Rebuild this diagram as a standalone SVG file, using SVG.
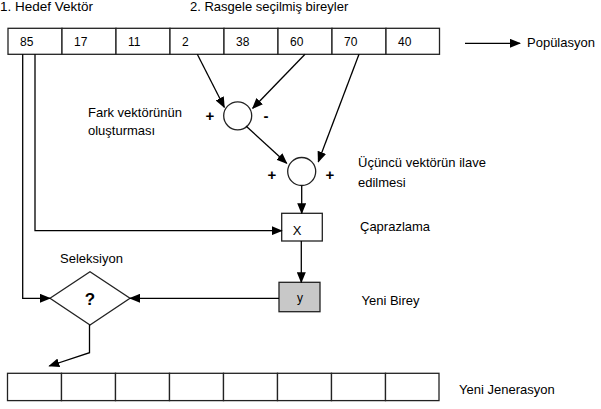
<svg xmlns="http://www.w3.org/2000/svg" width="601" height="409" viewBox="0 0 601 409">
<defs>
<marker id="ah" markerWidth="11" markerHeight="9" refX="10" refY="4.5" orient="auto" markerUnits="userSpaceOnUse">
<path d="M0,0 L11,4.5 L0,9 Z" fill="#000"/>
</marker>
<style>
text{font-family:"Liberation Sans",Arial,sans-serif;fill:#000}
.lbl{font-size:13px}
.num{font-size:12px}
.sign{font-size:15px;font-weight:bold}
.cell{fill:#fff;stroke:#222;stroke-width:1.3}
.ln{fill:none;stroke:#000;stroke-width:1.3}
.arr{fill:none;stroke:#000;stroke-width:1.3;marker-end:url(#ah)}
</style>
</defs>
<rect width="601" height="409" fill="#fff"/>
<text class="lbl" x="0" y="10.5" style="font-size:13.5px">1. Hedef Vektör</text>
<text class="lbl" x="190" y="10.5">2. Rasgele seçilmiş bireyler</text>
<g id="population">
<rect class="cell" x="8" y="28.3" width="54" height="26"/>
<rect class="cell" x="62" y="28.3" width="54" height="26"/>
<rect class="cell" x="116" y="28.3" width="54" height="26"/>
<rect class="cell" x="170" y="28.3" width="54" height="26"/>
<rect class="cell" x="224" y="28.3" width="54" height="26"/>
<rect class="cell" x="278" y="28.3" width="54" height="26"/>
<rect class="cell" x="332" y="28.3" width="54" height="26"/>
<rect class="cell" x="386" y="28.3" width="53.5" height="26"/>
<text class="num" x="20" y="46">85</text>
<text class="num" x="74" y="46">17</text>
<text class="num" x="128" y="46">11</text>
<text class="num" x="182" y="46">2</text>
<text class="num" x="236" y="46">38</text>
<text class="num" x="290" y="46">60</text>
<text class="num" x="344" y="46">70</text>
<text class="num" x="398" y="46">40</text>
</g>
<text class="lbl" x="527" y="47">Popülasyon</text>
<g id="diff">
<circle class="cell" cx="237.7" cy="115.8" r="14"/>
<text class="sign" x="210" y="121" text-anchor="middle">+</text>
<text class="sign" x="266" y="121" text-anchor="middle">-</text>
<text class="lbl" x="88" y="116.5">Fark vektörünün</text>
<text class="lbl" x="88" y="135">oluşturması</text>
</g>
<g id="add">
<circle class="cell" cx="301.7" cy="171.5" r="14"/>
<text class="sign" x="272" y="180" text-anchor="middle">+</text>
<text class="sign" x="330" y="180" text-anchor="middle">+</text>
<text class="lbl" x="358" y="166.5">Üçüncü vektörün ilave</text>
<text class="lbl" x="358" y="186.5">edilmesi</text>
</g>
<g id="cross">
<rect class="cell" x="281.7" y="213.3" width="40.6" height="27.7"/>
<text class="lbl" x="297" y="235" text-anchor="middle">X</text>
<text class="lbl" x="360" y="231">Çaprazlama</text>
</g>
<g id="newind">
<rect x="279" y="282.3" width="41" height="29.4" fill="#c8c8c8" stroke="#222" stroke-width="1.3"/>
<text class="lbl" x="300" y="302" text-anchor="middle" style="font-size:12px">y</text>
<text class="lbl" x="361.5" y="305">Yeni Birey</text>
</g>
<g id="selection">
<path class="cell" d="M50,298.3 L90,271.7 L130,298.3 L90,325 Z"/>
<text x="90" y="305" text-anchor="middle" style="font-size:17px;font-weight:bold">?</text>
<text class="lbl" x="60" y="263">Seleksiyon</text>
</g>
<g id="newgen">
<rect class="cell" x="7.5" y="373.3" width="54" height="27.3"/>
<rect class="cell" x="61.5" y="373.3" width="54" height="27.3"/>
<rect class="cell" x="115.5" y="373.3" width="54" height="27.3"/>
<rect class="cell" x="169.5" y="373.3" width="54" height="27.3"/>
<rect class="cell" x="223.5" y="373.3" width="54" height="27.3"/>
<rect class="cell" x="277.5" y="373.3" width="54" height="27.3"/>
<rect class="cell" x="331.5" y="373.3" width="54" height="27.3"/>
<rect class="cell" x="385.5" y="373.3" width="53.5" height="27.3"/>
<text class="lbl" x="459" y="394.3">Yeni Jenerasyon</text>
</g>
<g id="connectors">
<line class="arr" x1="465" y1="43.3" x2="520" y2="43.3"/>
<line class="arr" x1="197.3" y1="54.3" x2="224.3" y2="107.3"/>
<line class="arr" x1="305" y1="54.3" x2="252.7" y2="108.3"/>
<line class="arr" x1="246" y1="126" x2="286.7" y2="163.3"/>
<line class="arr" x1="359" y1="54.3" x2="318.3" y2="161.7"/>
<line class="arr" x1="301.7" y1="185.5" x2="301.7" y2="213.3"/>
<line class="arr" x1="301.3" y1="241" x2="301.3" y2="282.3"/>
<line class="arr" x1="279" y1="298.3" x2="130" y2="298.3"/>
<polyline class="arr" points="22.7,54.3 22.7,298.3 50,298.3"/>
<polyline class="arr" points="35,54.3 35,230.7 281.7,230.7"/>
<polyline class="arr" points="89.5,325 89.5,352.7 49.3,366"/>
</g>
</svg>
